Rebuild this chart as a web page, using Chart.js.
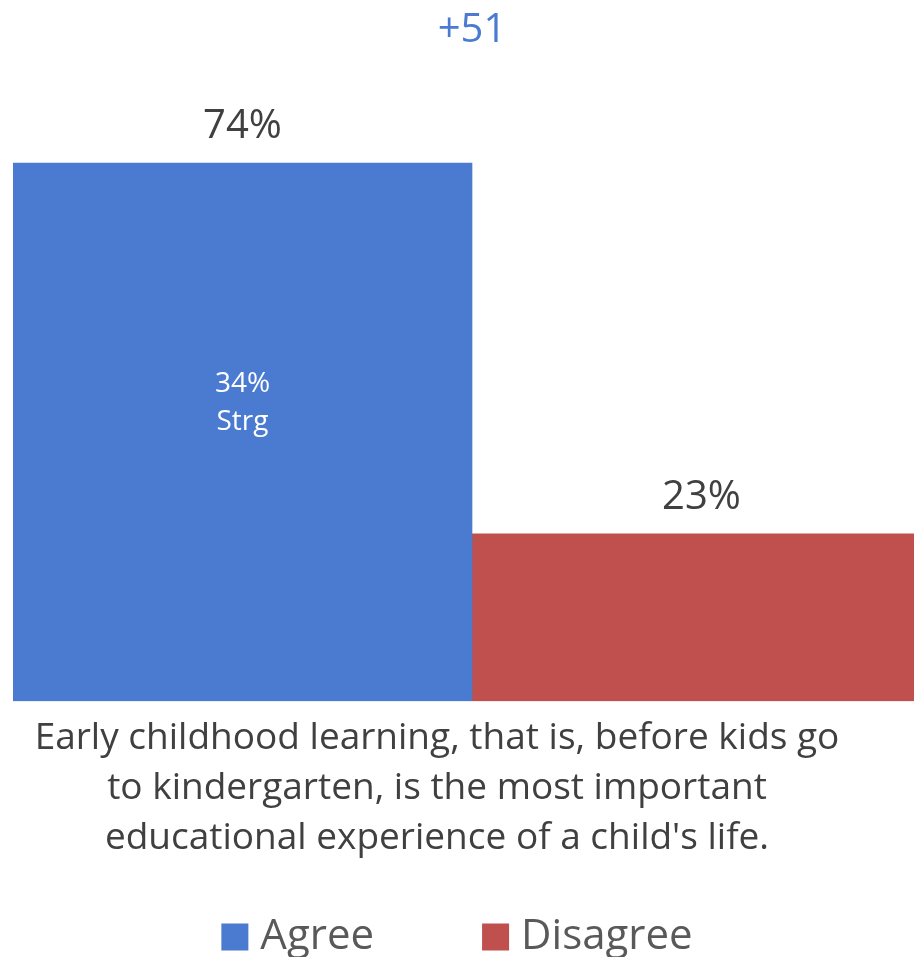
<!DOCTYPE html>
<html>
<head>
<meta charset="utf-8">
<script src="https://cdn.jsdelivr.net/npm/chart.js@4/dist/chart.umd.min.js"></script>
<style>
  html, body { margin: 0; padding: 0; background: #fff; }
  #wrap { width: 914px; height: 957px; }
</style>
</head>
<body>
<div id="wrap"><canvas id="chart"></canvas></div>
<script>
// values
const categories = [["Early childhood learning, that is, before kids go", "to kindergarten, is the most important", "educational experience of a child's life."]];
const seriesNames = ['Agree', 'Disagree'];
const agreeValues = [74];
const disagreeValues = [23];
const strongAgree = [34];
const netLabel = '+51';

const blue = '#4A7BD1';
const red = '#C0504D';
const font = "'Open Sans', sans-serif";

// the plot area runs past the right edge of the canvas, the red bar is cut off
const overflowPlugin = {
  id: 'overflow',
  afterLayout(chart) {
    const x = chart.scales.x;
    x.right += 17;
    x.width += 17;
    x.configure();
    chart.chartArea.right += 17;
    chart.chartArea.width += 17;
  }
};

// value labels above bars, "Strg" inside the agree bar, and the legend
const labelPlugin = {
  id: 'labels',
  afterDatasetsDraw(chart) {
    const ctx = chart.ctx;
    ctx.save();
    ctx.textAlign = 'center';
    ctx.textBaseline = 'middle';
    chart.data.datasets.forEach((ds, i) => {
      chart.getDatasetMeta(i).data.forEach((bar, j) => {
        ctx.fillStyle = '#404040';
        ctx.font = '40px ' + font;
        ctx.fillText(ds.data[j] + '%', bar.x, bar.y - 36);
        if (i === 0) {
          const mid = (bar.y + bar.base) / 2 - 29;
          ctx.fillStyle = '#ffffff';
          ctx.font = '28px ' + font;
          ctx.fillText(strongAgree[j] + '%', bar.x, mid - 19);
          ctx.fillText('Strg', bar.x, mid + 19);
        }
      });
    });
    ctx.restore();
  },
  afterDraw(chart) {
    const ctx = chart.ctx;
    ctx.save();
    ctx.font = '42px ' + font;
    ctx.textBaseline = 'middle';
    const box = 27, gap = 12, spacing = 108;
    const items = chart.data.datasets.map(ds => ({ text: ds.label, color: ds.backgroundColor, w: box + gap + ctx.measureText(ds.label).width }));
    const total = items.reduce((s, it) => s + it.w, 0) + spacing * (items.length - 1);
    let x = (chart.width - total) / 2;
    const y = 937;
    items.forEach(it => {
      ctx.fillStyle = it.color;
      ctx.fillRect(x, y - box / 2, box, box);
      ctx.fillStyle = '#595959';
      ctx.fillText(it.text, x + box + gap, y);
      x += it.w + spacing;
    });
    ctx.restore();
  }
};

new Chart(document.getElementById('chart'), {
  type: 'bar',
  data: {
    labels: categories,
    datasets: [
      { label: seriesNames[0], data: agreeValues, backgroundColor: blue },
      { label: seriesNames[1], data: disagreeValues, backgroundColor: red }
    ]
  },
  options: {
    responsive: true,
    maintainAspectRatio: false,
    animation: false,
    layout: { padding: { left: 13, right: -17, top: 0, bottom: 90 } },
    datasets: { bar: { categoryPercentage: 1, barPercentage: 1 } },
    scales: {
      x: {
        grid: { display: false },
        border: { display: false },
        ticks: {
          color: '#404040',
          font: { family: font, size: 37, lineHeight: 1.35 },
          padding: 4,
          labelOffset: -35,
          maxRotation: 0
        }
      },
      y: {
        display: false,
        min: 0,
        max: 85
      }
    },
    plugins: {
      legend: { display: false },
      tooltip: { enabled: false },
      title: {
        display: true,
        text: netLabel,
        color: blue,
        font: { family: font, size: 40, weight: 'normal', lineHeight: 1.2 },
        padding: { top: 7, bottom: 28 }
      }
    }
  },
  plugins: [overflowPlugin, labelPlugin]
});
</script>
</body>
</html>
